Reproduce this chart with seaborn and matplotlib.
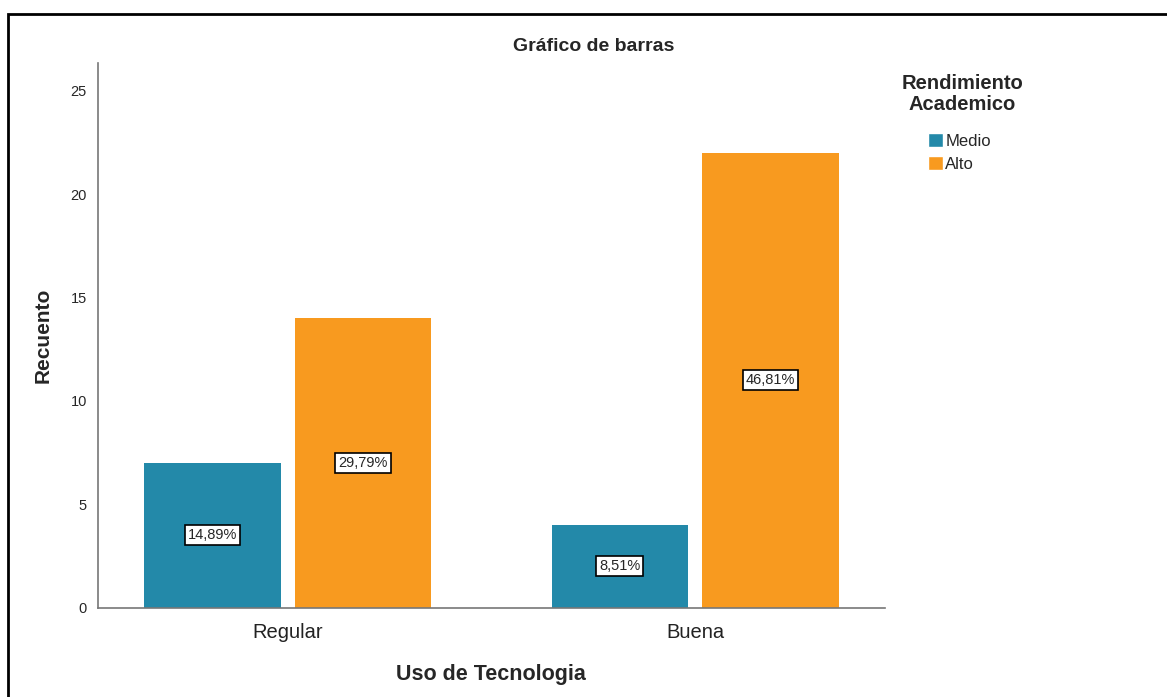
import pandas as pd
import matplotlib.pyplot as plt
import seaborn as sns
from matplotlib.patches import Rectangle, Patch

# Data
categorias = ['Regular', 'Buena']
medio = [7, 4]
alto = [14, 22]
pct_medio = ['14,89%', '8,51%']
pct_alto = ['29,79%', '46,81%']

colores = {'Medio': '#2389A9', 'Alto': '#F89A1F'}

df = pd.DataFrame({
    'Uso de Tecnologia': categorias * 2,
    'Rendimiento': ['Medio'] * len(categorias) + ['Alto'] * len(categorias),
    'Recuento': medio + alto,
    'pct': pct_medio + pct_alto,
})

sns.set_style('white')
plt.rcParams['font.family'] = ['Liberation Sans', 'DejaVu Sans']

fig = plt.figure(figsize=(11.67, 6.97), dpi=100)
ax = fig.add_axes([0.084, 0.128, 0.674, 0.782])

sns.barplot(data=df, x='Uso de Tecnologia', y='Recuento', hue='Rendimiento',
            hue_order=['Medio', 'Alto'], palette=colores, width=0.739, gap=0.095,
            linewidth=0, saturation=1, legend=False, ax=ax)

# percentage labels at half bar height
for cont, labels in zip(ax.containers, [pct_medio, pct_alto]):
    for bar, lab in zip(cont, labels):
        ax.text(bar.get_x() + bar.get_width() / 2, bar.get_height() / 2, lab,
                ha='center', va='center', fontsize=10.5,
                bbox=dict(boxstyle='square,pad=0.2', fc='white', ec='black', lw=1.2))

ax.set_ylim(0, 26.35)
ax.set_xlim(-0.466, 1.465)
ax.set_yticks([0, 5, 10, 15, 20, 25])
ax.tick_params(axis='y', labelsize=10.5, length=0, pad=8)
ax.tick_params(axis='x', labelsize=14.5, length=0, pad=11, colors='#222222')
for s in ['top', 'right']:
    ax.spines[s].set_visible(False)
for s in ['left', 'bottom']:
    ax.spines[s].set_color('#777777')
    ax.spines[s].set_linewidth(1.2)

ax.set_xlabel('Uso de Tecnologia', fontsize=15.5, fontweight='bold', labelpad=16)
ax.set_ylabel('Recuento', fontsize=15, fontweight='bold', labelpad=13)
fig.text(0.509, 0.934, 'Gráfico de barras', ha='center', va='center',
         fontsize=14, fontweight='bold')

# legend: centred title plus colour boxes
fig.text(0.8245, 0.865, 'Rendimiento\nAcademico', ha='center', va='center',
         multialignment='center', fontsize=14.5, fontweight='bold', linespacing=1.1)
handles = [Patch(facecolor=colores[k], label=k) for k in ['Medio', 'Alto']]
fig.legend(handles=handles, loc='upper left', bbox_to_anchor=(0.795, 0.809),
           frameon=False, fontsize=12, handlelength=0.9, handleheight=0.9,
           handletextpad=0.15, labelspacing=0.45, borderpad=0, borderaxespad=0)

# outer frame
fig.patches.append(Rectangle((0.007, -0.2), 1.2, 1.18, transform=fig.transFigure,
                             fill=False, ec='black', lw=2))

fig.savefig('out.png', dpi=100)
